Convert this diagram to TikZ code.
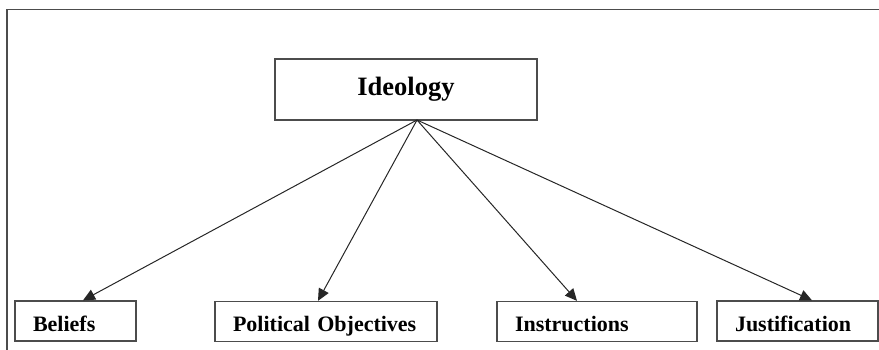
\documentclass[tikz,border=0pt]{standalone}
\usepackage{fontspec}
\setmainfont{Liberation Serif}
\usetikzlibrary{arrows.meta}

\begin{document}
\begin{tikzpicture}[x=1pt,y=-1pt,
    topbox/.style={draw=black!70,line width=1.3pt,minimum width=262pt,minimum height=61pt,
        font=\bfseries\fontsize{26.5}{30}\selectfont},
    box/.style={draw=black!70,line width=1.3pt,minimum height=40pt,inner xsep=18pt,
        text height=20pt,text depth=0pt,align=left,font=\bfseries\fontsize{22}{26}\selectfont},
    link/.style={black!85,line width=1pt,-{Triangle[width=11pt,length=12pt]}}]

    \useasboundingbox (0,0) rectangle (879,350);
    \draw[black!70,line width=1.6pt] (7,350) -- (7,9.5) -- (879,9.5);

    \node[topbox] (ideology) at (406,89.5) {Ideology};
    \coordinate (apex) at (417,120);

    \node[box,text width=85pt] (beliefs) at (75.5,321) {Beliefs};
    \node[box,text width=186pt] (objectives) at (326,321.5) {Political Objectives};
    \node[box,text width=164pt] (instructions) at (597,321.5) {Instructions};
    \node[box,text width=125pt] (justification) at (797.5,321) {Justification};

    \draw[link] (apex) -- ([xshift=7.5pt]beliefs.north);
    \draw[link] (apex) -- ([xshift=-8pt]objectives.north);
    \draw[link] (apex) -- ([xshift=-20pt]instructions.north);
    \draw[link] (apex) -- ([xshift=14.5pt]justification.north);

\end{tikzpicture}
\end{document}
